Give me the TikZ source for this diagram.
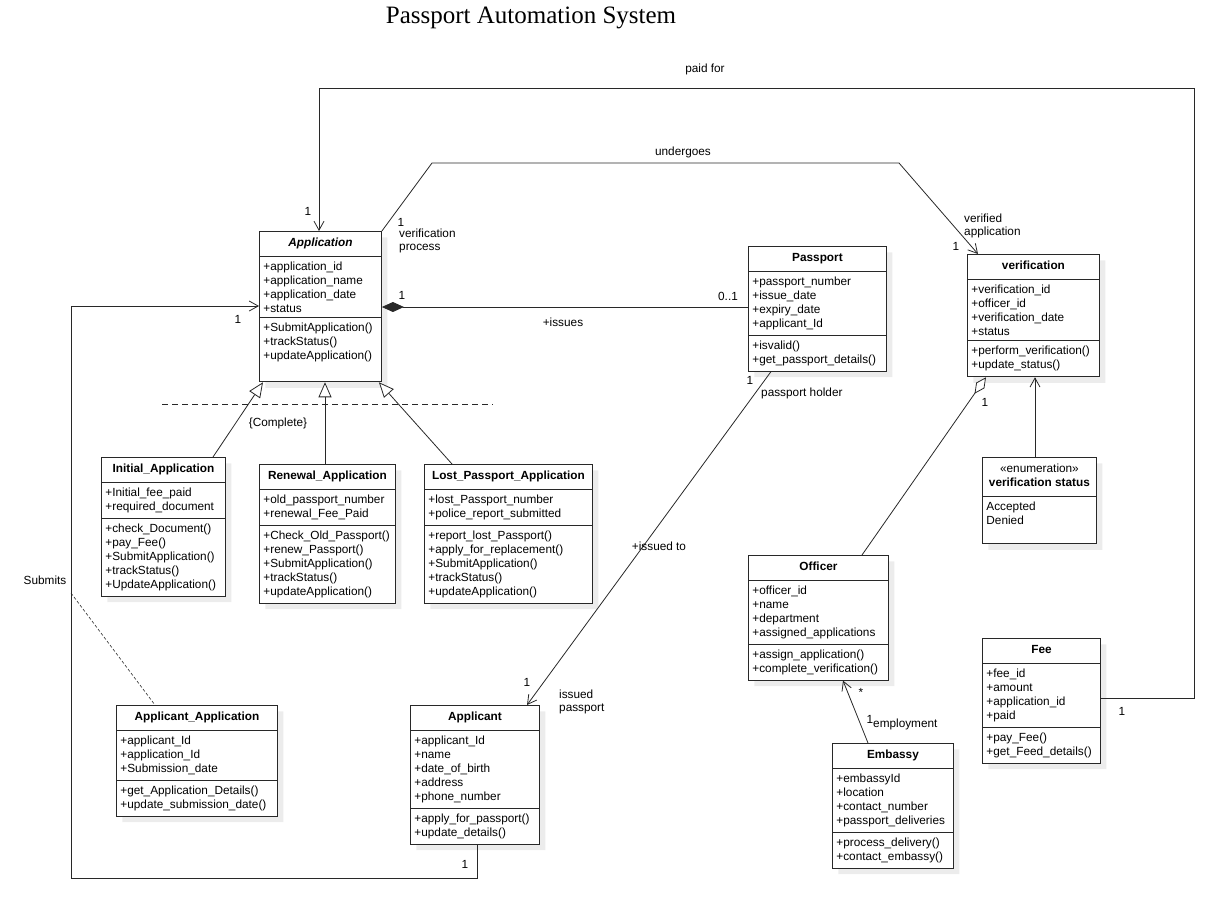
\documentclass[tikz,border=0pt]{standalone}
\usepackage{fontspec}
\setmainfont{Liberation Sans}
\newfontfamily\titlefont{Liberation Serif}
\usepackage{tikz}
\usetikzlibrary{shapes.multipart, positioning, calc, shadows, arrows.meta}
\definecolor{umlLine}{RGB}{40,40,40}
\definecolor{umlShadow}{RGB}{236,236,236}
\newcommand{\umlfont}{\fontsize{11.8}{14}\selectfont}

\tikzset{
    umlclass/.style={draw=umlLine, line width=0.9pt, fill=white,
        rectangle split, rectangle split parts=3,
        rectangle split part align={center,left,left}, align=left,
        anchor=north west, inner xsep=4pt, inner ysep=5pt, font=\umlfont,
        drop shadow={shadow xshift=6pt, shadow yshift=-6pt, fill=umlShadow, opacity=1}},
    umlenum/.style={umlclass, rectangle split parts=2, rectangle split part align={center,left}},
    assoc/.style={draw=umlLine, line width=0.8pt, -{Straight Barb[length=9pt,width=10pt]}},
    plainline/.style={draw=umlLine, line width=0.8pt},
    inherit/.style={draw=umlLine, line width=0.8pt, -{Triangle[length=15pt,width=13pt,fill=white]}},
    compose/.style={draw=umlLine, line width=0.8pt, {Diamond[length=22pt,width=10pt]}-},
    aggreg/.style={draw=umlLine, line width=0.8pt, -{Diamond[length=20pt,width=10pt,fill=white]}},
    lbl/.style={font=\fontsize{11.8}{12.5}\selectfont, inner sep=0pt, align=left}
}

\begin{document}
\begin{tikzpicture}[x=1pt, y=-1pt]
    \useasboundingbox (0,0) rectangle (1219,897);

    \node[font=\titlefont\fontsize{25}{30}\selectfont] (title) at (531,18) {Passport Automation System};

    % classes
    \node[umlclass, minimum width=122pt] (app) at (259,231)
        {\textbf{\textit{Application}}\strut
        \nodepart{second}+application\_id\\+application\_name\\+application\_date\\+status
        \nodepart{third}+SubmitApplication()\\+trackStatus()\\+updateApplication()\\\vphantom{(}};
    \node[umlclass, minimum width=138pt] (passport) at (748,246)
        {\textbf{Passport}\strut
        \nodepart{second}+passport\_number\\+issue\_date\\+expiry\_date\\+applicant\_Id
        \nodepart{third}+isvalid()\\+get\_passport\_details()};
    \node[umlclass, minimum width=132pt] (verif) at (967,254)
        {\textbf{verification}\strut
        \nodepart{second}+verification\_id\\+officer\_id\\+verification\_date\\+status
        \nodepart{third}+perform\_verification()\\+update\_status()};
    \node[umlclass, minimum width=124pt] (initapp) at (101,457)
        {\textbf{Initial\_Application}\strut
        \nodepart{second}+Initial\_fee\_paid\\+required\_document
        \nodepart{third}+check\_Document()\\+pay\_Fee()\\+SubmitApplication()\\+trackStatus()\\+UpdateApplication()};
    \node[umlclass, minimum width=136pt] (renewapp) at (259,464)
        {\textbf{Renewal\_Application}\strut
        \nodepart{second}+old\_passport\_number\\+renewal\_Fee\_Paid
        \nodepart{third}+Check\_Old\_Passport()\\+renew\_Passport()\\+SubmitApplication()\\+trackStatus()\\+updateApplication()};
    \node[umlclass, minimum width=168pt] (lostapp) at (424,464)
        {\textbf{Lost\_Passport\_Application}\strut
        \nodepart{second}+lost\_Passport\_number\\+police\_report\_submitted
        \nodepart{third}+report\_lost\_Passport()\\+apply\_for\_replacement()\\+SubmitApplication()\\+trackStatus()\\+updateApplication()};
    \node[umlenum, minimum width=114pt] (vstatus) at (982,457)
        {\begin{tabular}{@{}c@{}}«enumeration»\\\textbf{verification status}\end{tabular}
        \nodepart{second}Accepted\\Denied\\\vphantom{A}};
    \node[umlclass, minimum width=140pt] (officer) at (748,555)
        {\textbf{Officer}\strut
        \nodepart{second}+officer\_id\\+name\\+department\\+assigned\_applications
        \nodepart{third}+assign\_application()\\+complete\_verification()};
    \node[umlclass, minimum width=118pt] (fee) at (982,638)
        {\textbf{Fee}\strut
        \nodepart{second}+fee\_id\\+amount\\+application\_id\\+paid
        \nodepart{third}+pay\_Fee()\\+get\_Feed\_details()};
    \node[umlclass, minimum width=161pt] (applapp) at (116,705)
        {\textbf{Applicant\_Application}\strut
        \nodepart{second}+applicant\_Id\\+application\_Id\\+Submission\_date
        \nodepart{third}+get\_Application\_Details()\\+update\_submission\_date()};
    \node[umlclass, minimum width=129pt] (applicant) at (410,705)
        {\textbf{Applicant}\strut
        \nodepart{second}+applicant\_Id\\+name\\+date\_of\_birth\\+address\\+phone\_number
        \nodepart{third}+apply\_for\_passport()\\+update\_details()};
    \node[umlclass, minimum width=121pt] (embassy) at (832,743)
        {\textbf{Embassy}\strut
        \nodepart{second}+embassyId\\+location\\+contact\_number\\+passport\_deliveries
        \nodepart{third}+process\_delivery()\\+contact\_embassy()};

    % bend points
    \coordinate (paidR) at (1194,88);
    \coordinate (undL) at (432,163);
    \coordinate (undR) at (899,163);
    \coordinate (subBL) at (71,878);
    \coordinate (subMid) at (71,593);

    % generalisation
    \draw[inherit] ($(initapp.north west)+(112,0)$) -- ($(app.south west)+(4,0)$);
    \draw[inherit] ($(renewapp.north west)+(66,0)$) -- ($(app.south west)+(66,0)$);
    \draw[inherit] ($(lostapp.north west)+(28,0)$) -- ($(app.south east)+(-3,0)$);
    \draw[plainline, dash pattern=on 6pt off 4pt] (162,404) -- (493,404);
    \node[lbl] at (278,423) {\{Complete\}};

    % associations
    \draw[assoc] ($(fee.north east)+(0,60)$) -| (paidR) -| ($(app.north west)+(60,0)$);
    \node[lbl] at (705,69) {paid for};
    \node[lbl] at (308,211) {1};
    \node[lbl] at (1122,711) {1};

    \draw[assoc] (app.north east) -- (undL) -- (undR) -- ($(verif.north west)+(11,0)$);
    \node[lbl] at (683,152) {undergoes};
    \node[lbl] at (401,222) {1};
    \node[lbl, anchor=west] at (399,241) {verification\\process};
    \node[lbl, anchor=west] at (964,226) {verified\\application};
    \node[lbl] at (956,246) {1};

    \draw[compose] ($(app.north east)+(0,76)$) -- ($(passport.north west)+(0,61)$);
    \node[lbl] at (402,295) {1};
    \node[lbl] at (728,296) {0..1};
    \node[lbl] at (563,322) {+issues};

    \draw[assoc] ($(passport.south west)+(23,0)$) -- ($(applicant.north west)+(117,0)$);
    \node[lbl] at (750,380) {1};
    \node[lbl, anchor=west] at (761,393) {passport holder};
    \node[lbl] at (659,546) {+issued to};
    \node[lbl] at (527,682) {1};
    \node[lbl, anchor=west] at (559,702) {issued\\passport};

    \draw[assoc] ($(applicant.south west)+(67,0)$) |- (subBL) |- ($(app.north west)+(0,75)$);
    \draw[plainline, line width=0.6pt, densely dashed] (subMid) -- ($(applapp.north west)+(39,0)$);
    \node[lbl] at (238,319) {1};
    \node[lbl] at (465,864) {1};
    \node[lbl] at (45,580) {Submits};

    \draw[aggreg] ($(officer.north west)+(114,0)$) -- ($(verif.south west)+(19,0)$);
    \node[lbl] at (985,402) {1};

    \draw[assoc] ($(vstatus.north west)+(53,0)$) coordinate (vs) -- (vs |- verif.south);

    \draw[assoc] ($(embassy.north west)+(36,0)$) -- ($(officer.south west)+(95,0)$);
    \node[lbl] at (861,692) {*};
    \node[lbl] at (870,719) {1};
    \node[lbl, anchor=west] at (873,724) {employment};
\end{tikzpicture}
\end{document}
